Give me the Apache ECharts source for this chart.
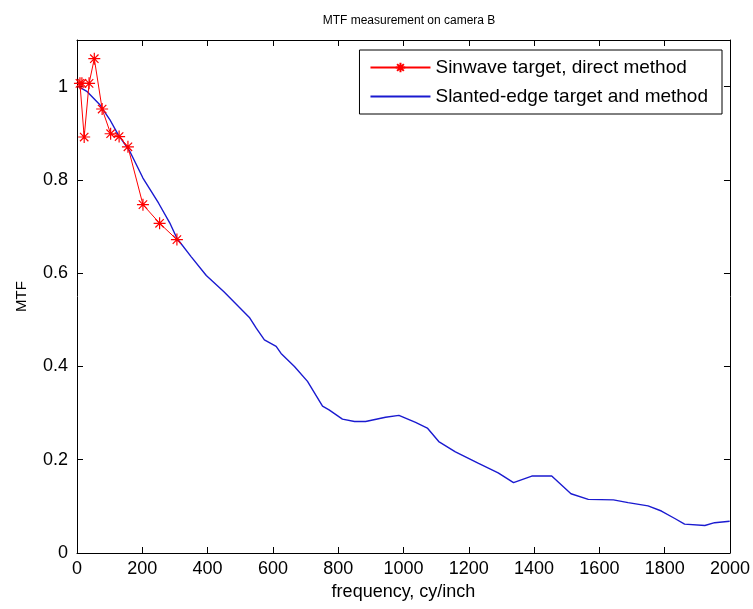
<!DOCTYPE html>
<html><head><meta charset="utf-8">
<script src="https://cdn.jsdelivr.net/npm/echarts@6/dist/echarts.min.js"></script>
<style>html,body{margin:0;padding:0;background:#fff}#c{width:753px;height:609px}</style>
</head><body><div id="c"></div>
<script>
const titleText = 'MTF measurement on camera B';
const xName = 'frequency, cy/inch';
const yName = 'MTF';
const seriesNames = ['Sinwave target, direct method', 'Slanted-edge target and method'];

const sineFreq = [9, 15, 22, 37, 53, 77, 103, 129, 156, 202, 253, 306];
const sineMTF  = [1.007, 1.007, 0.892, 1.007, 1.06, 0.952, 0.899, 0.893, 0.871, 0.747, 0.707, 0.672];

const edgeFreq = [5, 30, 70, 100, 126, 162, 202, 250, 284, 306, 350, 396, 450, 500, 528, 549, 574, 610, 625, 666, 706, 752, 772, 813, 850, 884, 945, 986, 1037, 1073, 1108, 1159, 1230, 1290, 1337, 1393, 1454, 1513, 1566, 1643, 1688, 1749, 1790, 1831, 1861, 1923, 1953, 1999];
const edgeMTF  = [1.0, 0.99, 0.961, 0.93, 0.897, 0.861, 0.804, 0.75, 0.708, 0.675, 0.635, 0.595, 0.56, 0.525, 0.505, 0.482, 0.457, 0.443, 0.428, 0.400, 0.368, 0.315, 0.307, 0.287, 0.282, 0.282, 0.291, 0.295, 0.280, 0.268, 0.239, 0.217, 0.192, 0.172, 0.151, 0.165, 0.165, 0.127, 0.115, 0.114, 0.108, 0.101, 0.090, 0.074, 0.062, 0.059, 0.065, 0.068];

const star = 'path://M0 5L10 5M5 0L5 10M1.5 1.5L8.5 8.5M8.5 1.5L1.5 8.5';
const font = 'Liberation Sans, Arial, sans-serif';

const chart = echarts.init(document.getElementById('c'), null, {renderer: 'canvas'});
const tickStyle = {show: true, inside: true, length: 6, lineStyle: {color: '#000', width: 1}};
const lineStyle = {show: true, onZero: false, lineStyle: {color: '#000', width: 1}};
const xBase = {type: 'value', min: 0, max: 2000, interval: 200, splitLine: {show: false}, axisLine: lineStyle, axisTick: tickStyle};
const yBase = {type: 'value', min: 0, max: 1.1, interval: 0.2, splitLine: {show: false}, axisLine: lineStyle, axisTick: tickStyle};

chart.setOption({
  animation: false,
  backgroundColor: '#fff',
  title: {text: titleText, left: 404, top: 10, textAlign: 'center',
    textStyle: {fontFamily: font, fontSize: 12, fontWeight: 'normal', color: '#000'}},
  grid: {left: 77, right: 21, top: 40, bottom: 56, containLabel: false},
  legend: {
    orient: 'vertical', right: 31, top: 50,
    backgroundColor: '#fff', borderColor: '#000', borderWidth: 1, borderRadius: 0,
    padding: [8, 14, 8, 10], itemGap: 10, itemWidth: 60, itemHeight: 12,
    textStyle: {fontFamily: font, fontSize: 19, color: '#000'},
    data: [
      {name: seriesNames[0]},
      {name: seriesNames[1], itemStyle: {opacity: 0}}
    ]
  },
  xAxis: [
    Object.assign({}, xBase, {position: 'bottom', name: xName, nameLocation: 'middle', nameGap: 28,
      nameTextStyle: {fontFamily: font, fontSize: 18, color: '#000'},
      axisLabel: {fontFamily: font, fontSize: 18, color: '#000', margin: 7, formatter: v => String(v)}}),
    Object.assign({}, xBase, {position: 'top', axisLabel: {show: false}})
  ],
  yAxis: [
    Object.assign({}, yBase, {position: 'left', name: yName, nameLocation: 'middle', nameGap: 48,
      nameTextStyle: {fontFamily: font, fontSize: 15, color: '#000'},
      axisLabel: {fontFamily: font, fontSize: 18, color: '#000', margin: 9,
        formatter: v => (v > 1.05 ? '' : String(Math.round(v * 10) / 10))}}),
    Object.assign({}, yBase, {position: 'right', axisLabel: {show: false}})
  ],
  series: [
    {
      name: seriesNames[0], type: 'line', xAxisIndex: 0, yAxisIndex: 0,
      data: sineFreq.map((f, i) => [f, sineMTF[i]]),
      symbol: star, symbolSize: 12, showAllSymbol: true,
      lineStyle: {color: '#ff0000', width: 1},
      itemStyle: {color: '#ff0000', borderColor: '#ff0000', borderWidth: 1.2},
      z: 3
    },
    {
      name: seriesNames[1], type: 'line', xAxisIndex: 0, yAxisIndex: 0,
      data: edgeFreq.map((f, i) => [f, edgeMTF[i]]),
      symbol: 'none', showSymbol: false,
      lineStyle: {color: '#1a1ad0', width: 1.4},
      itemStyle: {color: '#1a1ad0'},
      z: 2
    }
  ]
});
</script>
</body></html>
